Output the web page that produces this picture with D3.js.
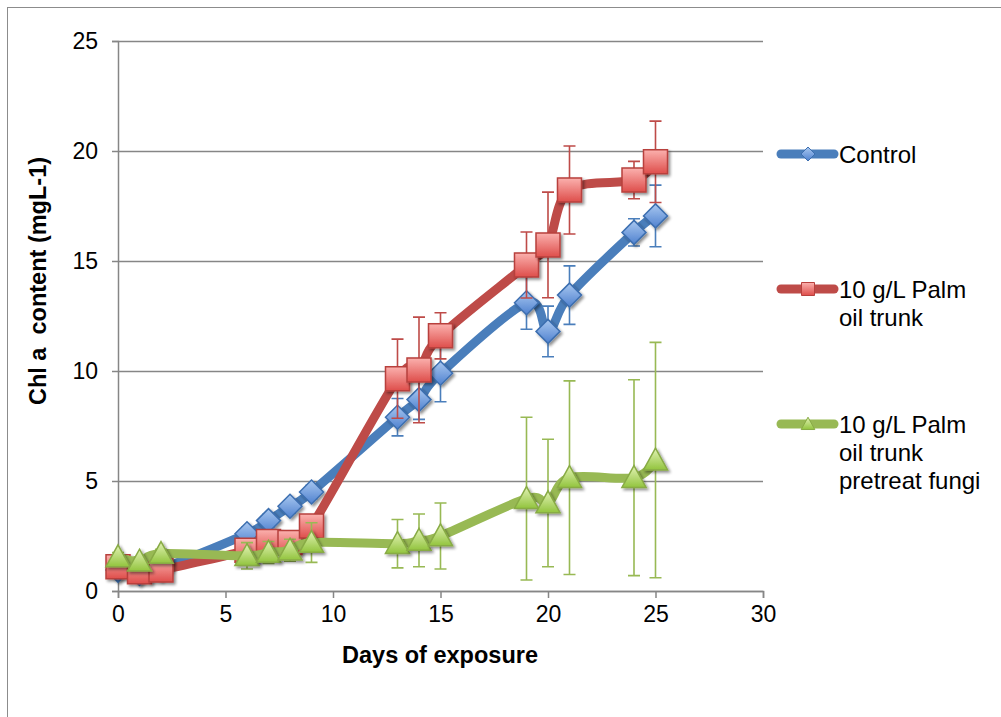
<!DOCTYPE html>
<html><head><meta charset="utf-8">
<script src="https://cdn.jsdelivr.net/npm/d3@7"></script>
<style>body{margin:0;background:#fff}svg{display:block;font-family:"Liberation Sans",Arial,sans-serif}</style>
</head><body><svg id="c" width="1001" height="717"></svg>
<script>
const days = [0,1,2,6,7,8,9,13,14,15,19,20,21,24,25];
const controlVals = [0.95,0.8,1.0,2.6,3.2,3.85,4.5,7.9,8.7,9.9,13.1,11.8,13.45,16.3,17.05];
const controlErr  = [0.2,0.2,0.2,0.3,0.3,0.3,0.3,0.85,0.9,1.3,1.2,1.15,1.33,0.62,1.4];
const palmVals = [1.1,0.88,0.95,1.85,2.25,2.2,2.95,9.65,10.05,11.6,14.82,15.73,18.23,18.68,19.51];
const palmErr  = [0.2,0.2,0.2,0.3,0.3,0.3,0.3,1.8,2.4,1.05,1.5,2.4,2.0,0.85,1.85];
const fungiVals = [1.55,1.35,1.7,1.6,1.75,1.85,2.2,2.15,2.3,2.5,4.2,4.0,5.15,5.15,5.95];
const fungiErr  = [0.2,0.2,0.2,0.6,0.5,0.5,0.9,1.1,1.2,1.5,3.7,2.9,4.4,4.45,5.35];
const xTicks = [0,5,10,15,20,25,30];
const yTicks = [0,5,10,15,20,25];
const seriesNames = [["Control"],["10 g/L Palm","oil trunk"],["10 g/L Palm","oil trunk","pretreat fungi"]];

const svg = d3.select("#c");
const defs = svg.append("defs");
const f = defs.append("filter").attr("id","sh").attr("x","-50%").attr("y","-50%").attr("width","200%").attr("height","200%");
f.append("feGaussianBlur").attr("in","SourceAlpha").attr("stdDeviation",1.6).attr("result","b");
f.append("feOffset").attr("in","b").attr("dx",1.5).attr("dy",2).attr("result","o");
f.append("feComponentTransfer").attr("in","o").attr("result","o2").append("feFuncA").attr("type","linear").attr("slope",0.45);
const m = f.append("feMerge"); m.append("feMergeNode").attr("in","o2"); m.append("feMergeNode").attr("in","SourceGraphic");
function grad(id,c1,c2){const g=defs.append("linearGradient").attr("id",id).attr("x1",0).attr("y1",0).attr("x2",0).attr("y2",1);
 g.append("stop").attr("offset","0%").attr("stop-color",c1); g.append("stop").attr("offset","100%").attr("stop-color",c2);}
grad("gb","#a9c8f0","#4f81cf"); grad("gr","#fbb1ae","#de4e4b"); grad("gg","#e3f3b6","#92c43e");

svg.append("rect").attr("x",7.5).attr("y",7.5).attr("width",1000).attr("height",720).attr("fill","none").attr("stroke","#8c8c8c").attr("stroke-width",1);

const x = d3.scaleLinear().domain([0,30]).range([118,763]);
const y = d3.scaleLinear().domain([0,25]).range([591,41]);
const grid = "#868686";

// gridlines + y axis
const ya = svg.append("g").attr("transform","translate(118,0)").call(d3.axisLeft(y).tickValues(yTicks).tickSize(6).tickPadding(14));
ya.select(".domain").attr("stroke",grid).attr("stroke-width",1.5);
ya.selectAll(".tick line").attr("stroke",grid).attr("stroke-width",1.5).attr("x1",-6).attr("x2",645);
ya.selectAll("text").attr("font-size",23).attr("fill","#000").attr("font-family","Liberation Sans, Arial");
const xa = svg.append("g").attr("transform","translate(0,591)").call(d3.axisBottom(x).tickValues(xTicks).tickSize(7).tickPadding(8));
xa.select(".domain").attr("stroke",grid).attr("stroke-width",1.5);
xa.selectAll(".tick line").attr("stroke",grid).attr("stroke-width",1.5);
xa.selectAll("text").attr("font-size",23).attr("fill","#000").attr("font-family","Liberation Sans, Arial");

svg.append("text").attr("x",440).attr("y",663).attr("text-anchor","middle").attr("font-size",23.5).attr("font-weight","bold").text("Days of exposure");
svg.append("text").attr("transform","translate(46,281) rotate(-90)").attr("text-anchor","middle").attr("font-size",23.5).attr("font-weight","bold").style("white-space","pre").text("Chl a  content (mgL-1)");

const series = [
 {vals:controlVals, err:controlErr, line:"#4a7ebb", fill:"url(#gb)", stroke:"#3d6fb0", shape:"diamond"},
 {vals:palmVals, err:palmErr, line:"#be4b48", fill:"url(#gr)", stroke:"#b8403d", shape:"square"},
 {vals:fungiVals, err:fungiErr, line:"#98b954", fill:"url(#gg)", stroke:"#88ab45", shape:"triangle"}
];
function shapePath(shape,s){
 if(shape==="diamond") return `M0,${-s}L${s},0L0,${s}L${-s},0Z`;
 if(shape==="square") return `M${-s},${-s}H${s}V${s}H${-s}Z`;
 return `M0,${-s*1.05}L${s*1.05},${s*0.85}L${-s*1.05},${s*0.85}Z`;
}
const line = d3.line().x(d=>x(d[0])).y(d=>y(d[1])).curve(d3.curveCardinal.tension(0));
series.forEach((s,si)=>{
 const pts = days.map((d,i)=>[d,s.vals[i],s.err[i]]);
 const g = svg.append("g");
 g.append("path").datum(pts).attr("d",line).attr("fill","none").attr("stroke",s.line).attr("stroke-width",9).attr("stroke-linejoin","round").attr("stroke-linecap","round");
 const eb = g.append("g").attr("stroke",s.line).attr("stroke-width",1.6).attr("fill","none");
 pts.forEach(p=>{
   const cx=x(p[0]), y1=y(p[1]+p[2]), y2=y(p[1]-p[2]);
   eb.append("path").attr("d",`M${cx},${y1}V${y2}M${cx-6},${y1}H${cx+6}M${cx-6},${y2}H${cx+6}`);
 });
 const size = s.shape==="diamond"?12: s.shape==="square"?12:11.5;
 g.selectAll("path.mk").data(pts).join("path").attr("class","mk")
  .attr("transform",p=>`translate(${x(p[0])},${y(p[1])})`)
  .attr("d",shapePath(s.shape,size)).attr("fill",s.fill).attr("stroke",s.stroke).attr("stroke-width",1.5).attr("filter","url(#sh)");
 // legend
 const ly = [154,289,424][si];
 const lg = svg.append("g");
 lg.append("line").attr("x1",781).attr("x2",834).attr("y1",ly).attr("y2",ly).attr("stroke",s.line).attr("stroke-width",9).attr("stroke-linecap","round");
 lg.append("path").attr("transform",`translate(808,${ly})`).attr("d",shapePath(s.shape,s.shape==="diamond"?7:6.5)).attr("fill",s.fill).attr("stroke",s.stroke).attr("stroke-width",1);
 seriesNames[si].forEach((t,k)=>lg.append("text").attr("x",839).attr("y",ly+9+k*28).attr("font-size",24).attr("fill","#000").text(t));
});
</script></body></html>
